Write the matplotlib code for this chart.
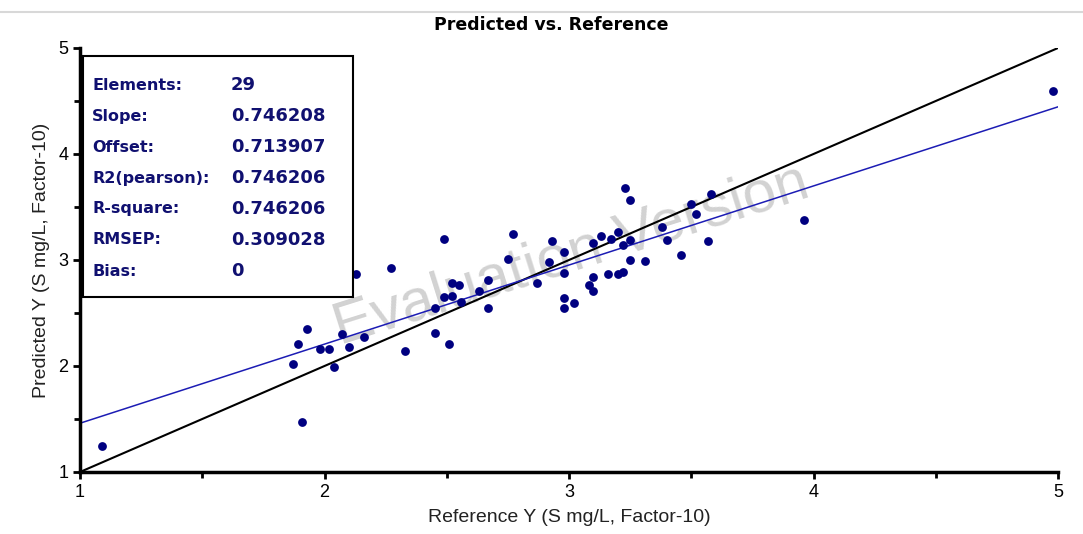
import matplotlib
matplotlib.use('Agg')
import matplotlib.pyplot as plt
from matplotlib.patches import Rectangle
from matplotlib.lines import Line2D

# data
x_ref = [1.09, 1.91, 1.87, 1.89, 1.93, 1.98, 2.02, 2.04, 2.07, 2.10, 2.16, 2.13,
         2.27, 2.33, 2.45, 2.45, 2.49, 2.49, 2.51, 2.52, 2.52, 2.55, 2.56, 2.63,
         2.67, 2.67, 2.75, 2.77, 2.87, 2.92, 2.93, 2.98, 2.98, 2.98, 2.98, 3.02,
         3.08, 3.10, 3.10, 3.10, 3.13, 3.17, 3.16, 3.20, 3.20, 3.22, 3.22, 3.23,
         3.25, 3.25, 3.25, 3.31, 3.38, 3.40, 3.46, 3.50, 3.52, 3.58, 3.57, 3.96,
         4.98]
y_pred = [1.25, 1.47, 2.02, 2.21, 2.35, 2.16, 2.16, 1.99, 2.30, 2.18, 2.27, 2.87,
          2.92, 2.14, 2.31, 2.55, 3.20, 2.65, 2.21, 2.78, 2.66, 2.76, 2.60, 2.71,
          2.81, 2.55, 3.01, 3.25, 2.78, 2.98, 3.18, 3.08, 2.88, 2.64, 2.55, 2.59,
          2.76, 2.84, 2.71, 3.16, 3.23, 3.20, 2.87, 3.26, 2.87, 2.89, 3.14, 3.68,
          3.57, 3.19, 3.00, 2.99, 3.31, 3.19, 3.05, 3.53, 3.43, 3.62, 3.18, 3.38,
          4.59]

stat_names = ['Elements:', 'Slope:', 'Offset:', 'R2(pearson):', 'R-square:', 'RMSEP:', 'Bias:']
stat_values = ['29', '0.746208', '0.713907', '0.746206', '0.746206', '0.309028', '0']
slope = 0.746208
offset = 0.713907

arial = ['Liberation Sans', 'DejaVu Sans']
navy = '#000080'

fig = plt.figure(figsize=(10.83, 5.34), dpi=100)
ax = fig.add_axes([80 / 1083, 62 / 534, 978 / 1083, 424 / 534])

ax.set_xlim(1, 5)
ax.set_ylim(1, 5)

# target line and fitted line
ax.plot([1, 5], [1, 5], color='black', lw=1.5, zorder=2)
ax.plot([1, 5], [slope * 1 + offset, slope * 5 + offset], color='#1c1cb4', lw=1.1, zorder=2)
ax.scatter(x_ref, y_pred, s=40, color=navy, zorder=3, linewidths=0)

ax.spines['top'].set_visible(False)
ax.spines['right'].set_visible(False)
for s in ['left', 'bottom']:
    ax.spines[s].set_linewidth(2.5)
ax.set_xticks([1, 2, 3, 4, 5])
ax.set_yticks([1, 2, 3, 4, 5])
ax.set_xticks([1.5, 2.5, 3.5, 4.5], minor=True)
ax.set_yticks([1.5, 2.5, 3.5, 4.5], minor=True)
ax.tick_params(which='major', length=5, width=2, labelsize=13)
ax.tick_params(which='minor', length=4, width=2)
for lab in ax.get_xticklabels() + ax.get_yticklabels():
    lab.set_family(arial)

ax.set_xlabel('Reference Y (S mg/L, Factor-10)', fontsize=14, family=arial,
              color='#222222', labelpad=6)
ax.set_ylabel('Predicted Y (S mg/L, Factor-10)', fontsize=14, family=arial,
              color='#222222', labelpad=6)
fig.text(551 / 1083, 1 - 25 / 534, 'Predicted vs. Reference', ha='center', va='center',
         fontsize=12.5, fontweight='bold')

# statistics box
box = Rectangle((3 / 978, (472 - 297) / 424), 270 / 978, 241 / 424, transform=ax.transAxes,
                facecolor='white', edgecolor='black', lw=1.5, zorder=4)
ax.add_patch(box)
for i, (name, val) in enumerate(zip(stat_names, stat_values)):
    yy = (472 - 85 - i * 31) / 424
    ax.text(12 / 978, yy, name, transform=ax.transAxes, va='center', ha='left', fontsize=11.5,
            fontweight='bold', color='#101070', zorder=5)
    ax.text(151 / 978, yy, val, transform=ax.transAxes, va='center', ha='left', fontsize=13,
            fontweight='bold', color='#101070', zorder=5)

# watermark
ax.text(0.502, 0.512, 'Evaluation Version', transform=ax.transAxes, rotation=17.5, ha='center',
        va='center', fontsize=43, color='#d2d2d2', zorder=1, family=arial)

# thin window border at top
fig.add_artist(Line2D([0, 1], [1 - 12 / 534, 1 - 12 / 534], color='#d8d8d8', lw=1.5))

fig.savefig('out.png', dpi=100)
